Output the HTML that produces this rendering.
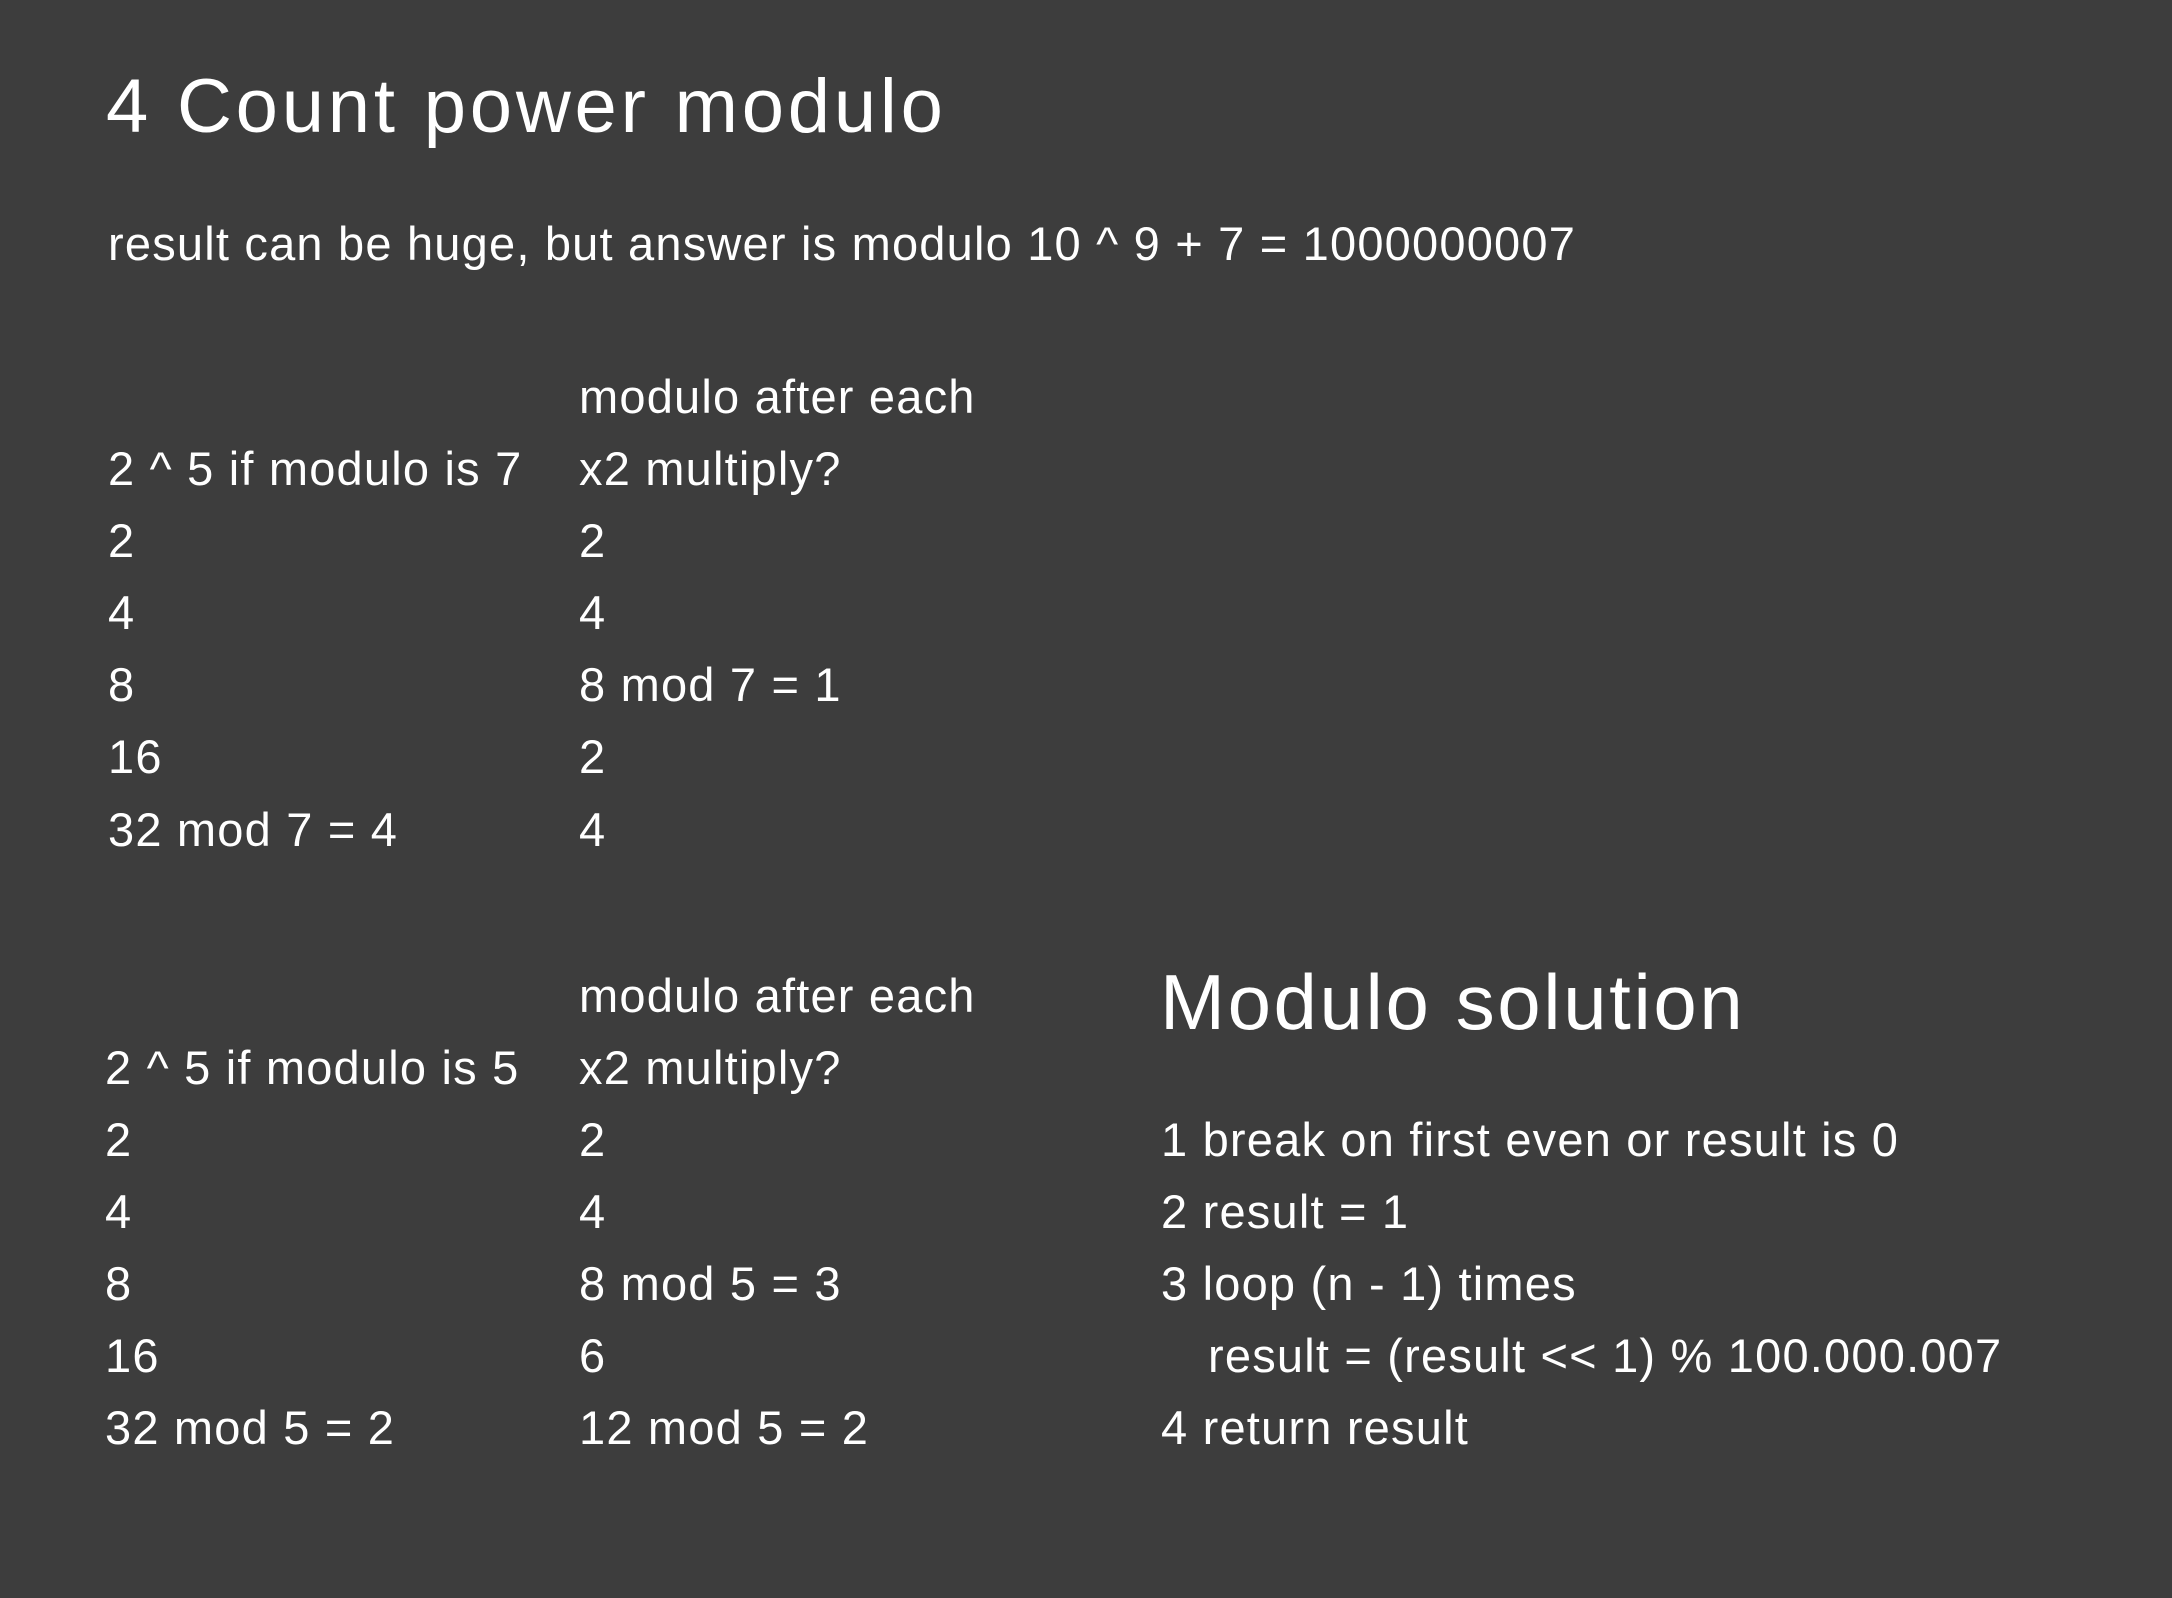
<!DOCTYPE html>
<html><head><meta charset="utf-8"><style>
html,body{margin:0;padding:0;background:#3d3d3d;}
body{width:2172px;height:1598px;position:relative;overflow:hidden;font-family:"Liberation Sans",sans-serif;color:#fff;}
.t{position:absolute;white-space:nowrap;font-size:47px;line-height:60px;letter-spacing:1.2px;}
.h{position:absolute;white-space:nowrap;line-height:100px;}
</style></head><body>
<div class="h" style="left:106px;top:57px;font-size:76px;letter-spacing:3.8px;">4 Count power modulo</div>
<div class="t" style="left:108px;top:214px;">result can be huge, but answer is modulo 10 ^ 9 + 7 = 1000000007</div>

<div class="t" style="left:579px;top:367px;">modulo after each</div>
<div class="t" style="left:108px;top:439px;">2 ^ 5 if modulo is 7</div>
<div class="t" style="left:579px;top:439px;">x2 multiply?</div>
<div class="t" style="left:108px;top:511px;">2</div><div class="t" style="left:579px;top:511px;">2</div>
<div class="t" style="left:108px;top:583px;">4</div><div class="t" style="left:579px;top:583px;">4</div>
<div class="t" style="left:108px;top:655px;">8</div><div class="t" style="left:579px;top:655px;">8 mod 7 = 1</div>
<div class="t" style="left:108px;top:727px;">16</div><div class="t" style="left:579px;top:727px;">2</div>
<div class="t" style="left:108px;top:800px;">32 mod 7 = 4</div><div class="t" style="left:579px;top:800px;">4</div>

<div class="t" style="left:579px;top:966px;">modulo after each</div>
<div class="t" style="left:105px;top:1038px;">2 ^ 5 if modulo is 5</div>
<div class="t" style="left:579px;top:1038px;">x2 multiply?</div>
<div class="t" style="left:105px;top:1110px;">2</div><div class="t" style="left:579px;top:1110px;">2</div>
<div class="t" style="left:105px;top:1182px;">4</div><div class="t" style="left:579px;top:1182px;">4</div>
<div class="t" style="left:105px;top:1254px;">8</div><div class="t" style="left:579px;top:1254px;">8 mod 5 = 3</div>
<div class="t" style="left:105px;top:1326px;">16</div><div class="t" style="left:579px;top:1326px;">6</div>
<div class="t" style="left:105px;top:1398px;">32 mod 5 = 2</div><div class="t" style="left:579px;top:1398px;">12 mod 5 = 2</div>

<div class="h" style="left:1160px;top:952px;font-size:78px;letter-spacing:2.6px;">Modulo solution</div>
<div class="t" style="left:1161px;top:1110px;">1 break on first even or result is 0</div>
<div class="t" style="left:1161px;top:1182px;">2 result = 1</div>
<div class="t" style="left:1161px;top:1254px;">3 loop (n - 1) times</div>
<div class="t" style="left:1208px;top:1326px;">result = (result &lt;&lt; 1) % 100.000.007</div>
<div class="t" style="left:1161px;top:1398px;">4 return result</div>
</body></html>
